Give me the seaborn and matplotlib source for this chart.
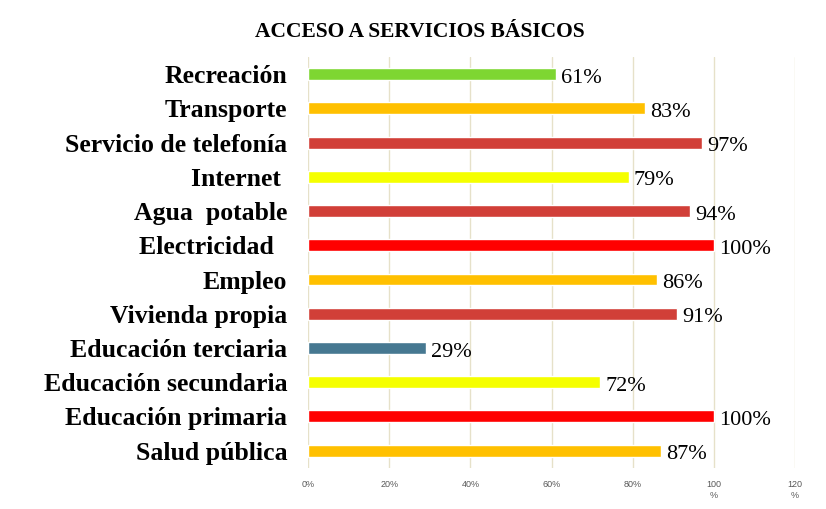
import matplotlib
matplotlib.use('Agg')
import matplotlib.pyplot as plt
import seaborn as sns
import pandas as pd

categorias = ['Recreación', 'Transporte', 'Servicio de telefonía', 'Internet ',
              'Agua  potable', 'Electricidad  ', 'Empleo', 'Vivienda propia',
              'Educación terciaria', 'Educación secundaria', 'Educación primaria',
              'Salud pública']
valores = [61, 83, 97, 79, 94, 100, 86, 91, 29, 72, 100, 87]
colores = ['#7ed632', '#ffc000', '#d13f38', '#f5ff00', '#d13f38', '#ff0000',
           '#ffc000', '#d13f38', '#467891', '#f5ff00', '#ff0000', '#ffc000']
ticks = [0, 20, 40, 60, 80, 100, 120]
tick_labels = ['0%', '20%', '40%', '60%', '80%', '100\n%', '120\n%']

sns.set_style('white')
plt.rcParams['font.family'] = ['Liberation Serif', 'DejaVu Serif']
plt.rcParams['text.color'] = 'black'

df = pd.DataFrame({'Categoria': categorias, 'Valor': valores})

fig = plt.figure(figsize=(8.26, 5.09), dpi=100)
ax = fig.add_axes([0.373, 0.081, 0.5895, 0.807])
sns.barplot(data=df, x='Valor', y='Categoria', hue='Categoria', palette=colores,
            dodge=False, legend=False, width=0.35, ax=ax, saturation=1)

ax.set_xlim(0, 120)
ax.set_xticks(ticks)
ax.set_xticklabels(tick_labels, fontsize=6.5, color='#595959',
                   family=['Liberation Sans', 'DejaVu Sans'], va='top')
ax.xaxis.grid(True, color='#e6e1c9', linewidth=1)
ax.set_axisbelow(True)
ax.tick_params(axis='x', length=0, pad=9)
ax.tick_params(axis='y', length=0, pad=15)
for lbl in ax.get_yticklabels():
    lbl.set_fontsize(18.5)
    lbl.set_fontweight('bold')
    lbl.set_color('black')
ax.set_xlabel('')
ax.set_ylabel('')
for s in ax.spines.values():
    s.set_visible(False)

for i, v in enumerate(valores):
    ax.text(v + 1.3, i + 0.12, f'{v}%', va='center', ha='left', fontsize=16,
            color='black')

fig.text(0.508, 0.937, 'ACCESO A SERVICIOS BÁSICOS', ha='center', va='center',
         fontsize=15.5, fontweight='bold', color='black')

plt.savefig('out.png', dpi=100)
